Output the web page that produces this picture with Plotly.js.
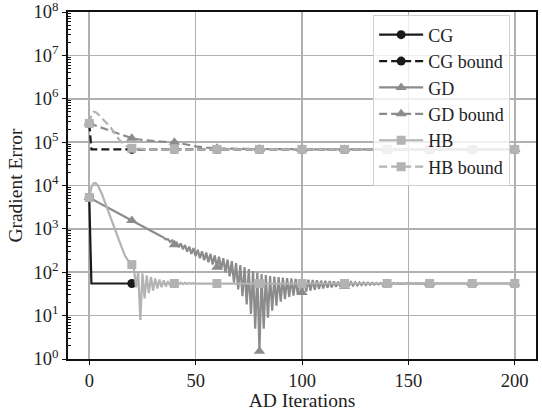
<!DOCTYPE html>
<html><head><meta charset="utf-8">
<script src="https://cdn.plot.ly/plotly-3.0.1.min.js"></script>
<style>html,body{margin:0;padding:0;background:#fff}#chart{width:542px;height:411px}</style>
</head><body><div id="chart"></div>
<script>
// ---- data ----
const seriesNames = ["CG", "CG bound", "GD", "GD bound", "HB", "HB bound"];

// CG: iterations 0..20
const cgY = [5300, 55, 55, 55, 55, 55, 55, 55, 55, 55, 55, 55, 55, 55, 55, 55, 55, 55, 55, 55, 55];

// CG bound
const cgBoundX = [0, 1, 20, 40, 60, 80, 100, 120, 140, 160, 180, 200];
const cgBoundY = [270000, 68000, 68000, 68000, 68000, 68000, 68000, 68000, 68000, 68000, 68000, 68000];

// GD: iterations 0..200
const gdY = [
  5300, 4940, 4650, 4370, 4110, 3870, 3650, 3430, 3230, 3040,
  2860, 2690, 2530, 2380, 2240, 2110, 1990, 1870, 1760, 1650,
  1560, 1460, 1380, 1300, 1220, 1150, 1080, 1020, 960, 900,
  850, 800, 750, 710, 665, 630, 570, 580, 500, 540,
  430, 500, 380, 460, 340, 425, 300, 390, 265, 360,
  235, 330, 210, 305, 190, 285, 170, 265, 150, 245,
  130, 228, 115, 210, 100, 195, 80, 180, 58, 162,
  40, 147, 28, 132, 18, 118, 11, 107, 5, 98,
  1.5, 91, 5, 86, 9, 82, 13, 79, 17, 77,
  21, 75, 24, 73.5, 27, 72, 29, 70.5, 31, 69,
  34, 68, 36, 67, 38, 66, 39.5, 65, 41, 64,
  42.5, 63.2, 43.8, 62.4, 45, 61.6, 46, 60.8, 47, 60,
  47.8, 59.4, 48.6, 58.9, 49.4, 58.4, 50, 58, 50.6, 57.6,
  51.1, 57.2, 51.6, 56.9, 52.1, 56.6, 52.5, 56.4, 52.9, 56.2,
  53.2, 56, 53.5, 55.8, 53.8, 55.7, 54, 55.6, 54.2, 55.5,
  54.4, 55.4, 54.5, 55.3, 54.6, 55.2, 54.7, 55.2, 54.8, 55.1,
  55, 55, 55, 55, 55, 55, 55, 55, 55, 55,
  55, 55, 55, 55, 55, 55, 55, 55, 55, 55,
  55, 55, 55, 55, 55, 55, 55, 55, 55, 55,
  55, 55, 55, 55, 55, 55, 55, 55, 55, 55,
  55
];

// GD bound
const gdBoundX = [0, 5, 10, 15, 20, 25, 30, 35, 40, 45, 50, 55, 60, 70, 80, 100, 120, 140, 160, 180, 200];
const gdBoundY = [270000, 220000, 180000, 148000, 123000, 112000, 106000, 102000, 100000, 88000, 80000, 75000, 72000, 70000, 69000, 68500, 68000, 68000, 68000, 68000, 68000];

// HB: iterations 0..50, then constant
const hbX = [0,1,2,3,4,5,6,7,8,9,10,11,12,13,14,15,16,17,18,19,20,21,22,23,24,25,26,27,28,29,30,31,32,33,34,35,36,37,38,39,40,41,42,43,44,45,46,47,48,49,50,60,80,100,120,140,160,180,200];
const hbY = [
  5300, 9000, 11200, 11300, 10000, 8200, 6300, 4600, 3300, 2400,
  1800, 1350, 1000, 720, 520, 390, 300, 230, 190, 165,
  150, 120, 45, 105, 8, 95, 25, 85, 33, 78,
  38, 72, 42, 68, 45, 65, 47, 62, 49, 60,
  55, 58, 52, 57.5, 53, 57, 53.5, 56.5, 54, 56,
  54.5, 55, 55, 55, 55, 55, 55, 55, 55
];

// HB bound
const hbBoundX = [0, 1, 2, 3, 4, 6, 8, 10, 12, 14, 16, 18, 20, 25, 30, 40, 60, 80, 100, 120, 140, 160, 180, 200];
const hbBoundY = [270000, 420000, 500000, 490000, 450000, 360000, 290000, 220000, 160000, 115000, 90000, 78000, 72000, 69000, 68000, 68000, 68000, 68000, 68000, 68000, 68000, 68000, 68000, 68000];

const xTickVals = [0, 50, 100, 150, 200];
const yTickVals = [1, 10, 100, 1000, 10000, 100000, 1000000, 10000000, 100000000];
const yTickText = ["10<sup>0</sup>","10<sup>1</sup>","10<sup>2</sup>","10<sup>3</sup>","10<sup>4</sup>","10<sup>5</sup>","10<sup>6</sup>","10<sup>7</sup>","10<sup>8</sup>"];

// ---- build ----
const idx = a => a.map((_, i) => i);
const FONT = "Liberation Serif, Times New Roman, serif";
const TXT = "#222";
const BLACK = "#1a1a1a", MID = "#8c8c8c", LIGHT = "#b3b3b3";
const DASH = "8px,4px";

const specs = [
  {name: seriesNames[0], x: idx(cgY), y: cgY, color: BLACK, dash: "solid", symbol: "circle", size: 9},
  {name: seriesNames[1], x: cgBoundX, y: cgBoundY, color: BLACK, dash: DASH, symbol: "circle", size: 9},
  {name: seriesNames[2], x: idx(gdY), y: gdY, color: MID, dash: "solid", symbol: "triangle-up", size: 10},
  {name: seriesNames[3], x: gdBoundX, y: gdBoundY, color: MID, dash: DASH, symbol: "triangle-up", size: 10},
  {name: seriesNames[4], x: hbX, y: hbY, color: LIGHT, dash: "solid", symbol: "square", size: 9},
  {name: seriesNames[5], x: hbBoundX, y: hbBoundY, color: LIGHT, dash: DASH, symbol: "square", size: 9}
];

const traces = [];
const legendTraces = [];
specs.forEach(s => {
  traces.push({x: s.x, y: s.y, mode: "lines", showlegend: false, hoverinfo: "skip",
    line: {color: s.color, width: 2.2, dash: s.dash}});
  const mx = [], my = [];
  s.x.forEach((v, i) => { if (v % 20 === 0) { mx.push(v); my.push(s.y[i]); } });
  traces.push({x: mx, y: my, mode: "markers", showlegend: false, hoverinfo: "skip",
    marker: {color: s.color, symbol: s.symbol, size: s.size, line: {width: 0}}});
  legendTraces.push({x: [null], y: [null], name: s.name, mode: "lines+markers",
    line: {color: s.color, width: 2.2, dash: s.dash},
    marker: {color: s.color, symbol: s.symbol, size: s.size, line: {width: 0}}});
});

const minorVals = [];
for (let d = 0; d < 8; d++) for (let m = 2; m <= 9; m++) minorVals.push(m * Math.pow(10, d));

const layout = {
  width: 542, height: 411,
  margin: {l: 68, r: 6, t: 12, b: 52},
  paper_bgcolor: "#fff", plot_bgcolor: "#fff",
  font: {family: FONT, size: 18, color: TXT},
  showlegend: true,
  legend: {x: 0.652, y: 0.99, xanchor: "left", yanchor: "top",
    bgcolor: "rgba(255,255,255,0.8)", bordercolor: "#d0d0d0", borderwidth: 1,
    itemwidth: 44,
    font: {family: FONT, size: 18, color: TXT}, tracegroupgap: 0},
  xaxis: {range: [-10, 210], tickmode: "array", tickvals: xTickVals,
    showgrid: true, gridcolor: "#b0b0b0", gridwidth: 1.7, zeroline: false,
    showline: true, linecolor: "#111", linewidth: 1.8, mirror: true,
    ticks: "outside", ticklen: 4, tickcolor: "#111",
    tickfont: {family: FONT, size: 18.5, color: TXT},
    title: {text: "AD Iterations", font: {family: FONT, size: 19.5, color: TXT}, standoff: 4}},
  yaxis: {type: "log", range: [0, 8], tickmode: "array", tickvals: yTickVals, ticktext: yTickText,
    ticklabeloverflow: "allow",
    showgrid: true, gridcolor: "#b0b0b0", gridwidth: 1.7, zeroline: false,
    showline: true, linecolor: "#111", linewidth: 1.8, mirror: true,
    ticks: "outside", ticklen: 4, tickcolor: "#111",
    minor: {tickmode: "array", tickvals: minorVals, ticks: "inside", ticklen: 2.5, tickcolor: "#111", showgrid: false},
    tickfont: {family: FONT, size: 18.5, color: TXT},
    title: {text: "Gradient Error", font: {family: FONT, size: 19.5, color: TXT}, standoff: 6}}
};

Plotly.newPlot("chart", traces.concat(legendTraces), layout, {displayModeBar: false, staticPlot: true});
</script>
</body></html>
